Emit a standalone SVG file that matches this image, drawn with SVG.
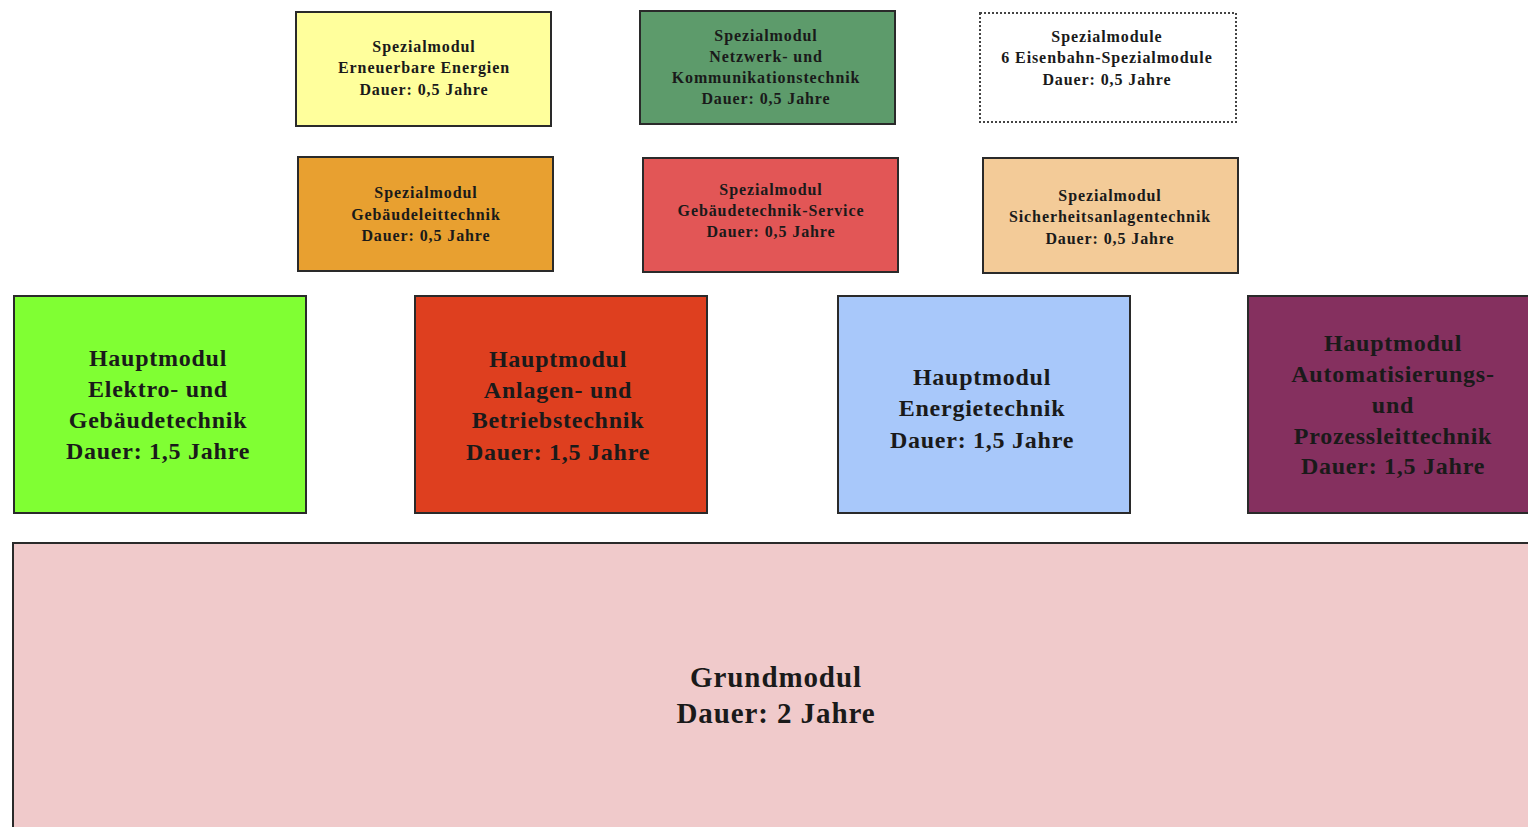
<svg xmlns="http://www.w3.org/2000/svg" width="1528" height="827" viewBox="0 0 1528 827">
<style>
.box{stroke:#2a2a2a;stroke-width:2}
.dot{fill:#fff;stroke:#444;stroke-width:2;stroke-dasharray:2 2}
.s{font-family:"Liberation Serif","Times New Roman",serif;font-weight:bold;font-size:16px;letter-spacing:0.9px;fill:#1a1a1a;text-anchor:middle}
.h{font-family:"Liberation Serif","Times New Roman",serif;font-weight:bold;font-size:24px;letter-spacing:0.75px;fill:#1a1a1a;text-anchor:middle}
.g{font-family:"Liberation Serif","Times New Roman",serif;font-weight:bold;font-size:29px;letter-spacing:0.9px;fill:#1a1a1a;text-anchor:middle}
</style>
<rect width="1528" height="827" fill="#fff"/>
<g id="grundmodul">
<rect class="box" x="13" y="543" width="1530" height="300" fill="#F0CACB"/>
<text class="g" x="776" y="687">Grundmodul</text>
<text class="g" x="776" y="723">Dauer: 2 Jahre</text>
</g>
<g id="hm-elektro">
<rect class="box" x="14" y="296" width="292" height="217" fill="#80FF33"/>
<text class="h" x="158" y="366">Hauptmodul</text>
<text class="h" x="158" y="397">Elektro- und</text>
<text class="h" x="158" y="428">Gebäudetechnik</text>
<text class="h" x="158" y="459">Dauer: 1,5 Jahre</text>
</g>
<g id="hm-anlagen">
<rect class="box" x="415" y="296" width="292" height="217" fill="#DE3F1F"/>
<text class="h" x="558" y="367">Hauptmodul</text>
<text class="h" x="558" y="398">Anlagen- und</text>
<text class="h" x="558" y="428">Betriebstechnik</text>
<text class="h" x="558" y="460">Dauer: 1,5 Jahre</text>
</g>
<g id="hm-energie">
<rect class="box" x="838" y="296" width="292" height="217" fill="#A8C8FA"/>
<text class="h" x="982" y="385">Hauptmodul</text>
<text class="h" x="982" y="416">Energietechnik</text>
<text class="h" x="982" y="448">Dauer: 1,5 Jahre</text>
</g>
<g id="hm-automatisierung">
<rect class="box" x="1248" y="296" width="300" height="217" fill="#85305F"/>
<text class="h" x="1393" y="351">Hauptmodul</text>
<text class="h" x="1393" y="382">Automatisierungs-</text>
<text class="h" x="1393" y="413">und</text>
<text class="h" x="1393" y="444">Prozessleittechnik</text>
<text class="h" x="1393" y="474">Dauer: 1,5 Jahre</text>
</g>
<g id="sm-erneuerbar">
<rect class="box" x="296" y="12" width="255" height="114" fill="#FFFF9C"/>
<text class="s" x="424" y="52">Spezialmodul</text>
<text class="s" x="424" y="73">Erneuerbare Energien</text>
<text class="s" x="424" y="95">Dauer: 0,5 Jahre</text>
</g>
<g id="sm-netzwerk">
<rect class="box" x="640" y="11" width="255" height="113" fill="#5D9B6B"/>
<text class="s" x="766" y="41">Spezialmodul</text>
<text class="s" x="766" y="62">Netzwerk- und</text>
<text class="s" x="766" y="83">Kommunikationstechnik</text>
<text class="s" x="766" y="104">Dauer: 0,5 Jahre</text>
</g>
<g id="sm-eisenbahn">
<rect class="dot" x="980" y="13" width="256" height="109"/>
<text class="s" x="1107" y="42">Spezialmodule</text>
<text class="s" x="1107" y="63">6 Eisenbahn-Spezialmodule</text>
<text class="s" x="1107" y="85">Dauer: 0,5 Jahre</text>
</g>
<g id="sm-gebaeudeleit">
<rect class="box" x="298" y="157" width="255" height="114" fill="#E8A030"/>
<text class="s" x="426" y="198">Spezialmodul</text>
<text class="s" x="426" y="220">Gebäudeleittechnik</text>
<text class="s" x="426" y="241">Dauer: 0,5 Jahre</text>
</g>
<g id="sm-service">
<rect class="box" x="643" y="158" width="255" height="114" fill="#E25656"/>
<text class="s" x="771" y="195">Spezialmodul</text>
<text class="s" x="771" y="216">Gebäudetechnik-Service</text>
<text class="s" x="771" y="237">Dauer: 0,5 Jahre</text>
</g>
<g id="sm-sicherheit">
<rect class="box" x="983" y="158" width="255" height="115" fill="#F3CB98"/>
<text class="s" x="1110" y="201">Spezialmodul</text>
<text class="s" x="1110" y="222">Sicherheitsanlagentechnik</text>
<text class="s" x="1110" y="244">Dauer: 0,5 Jahre</text>
</g>
<g id="connectors"></g>
</svg>
